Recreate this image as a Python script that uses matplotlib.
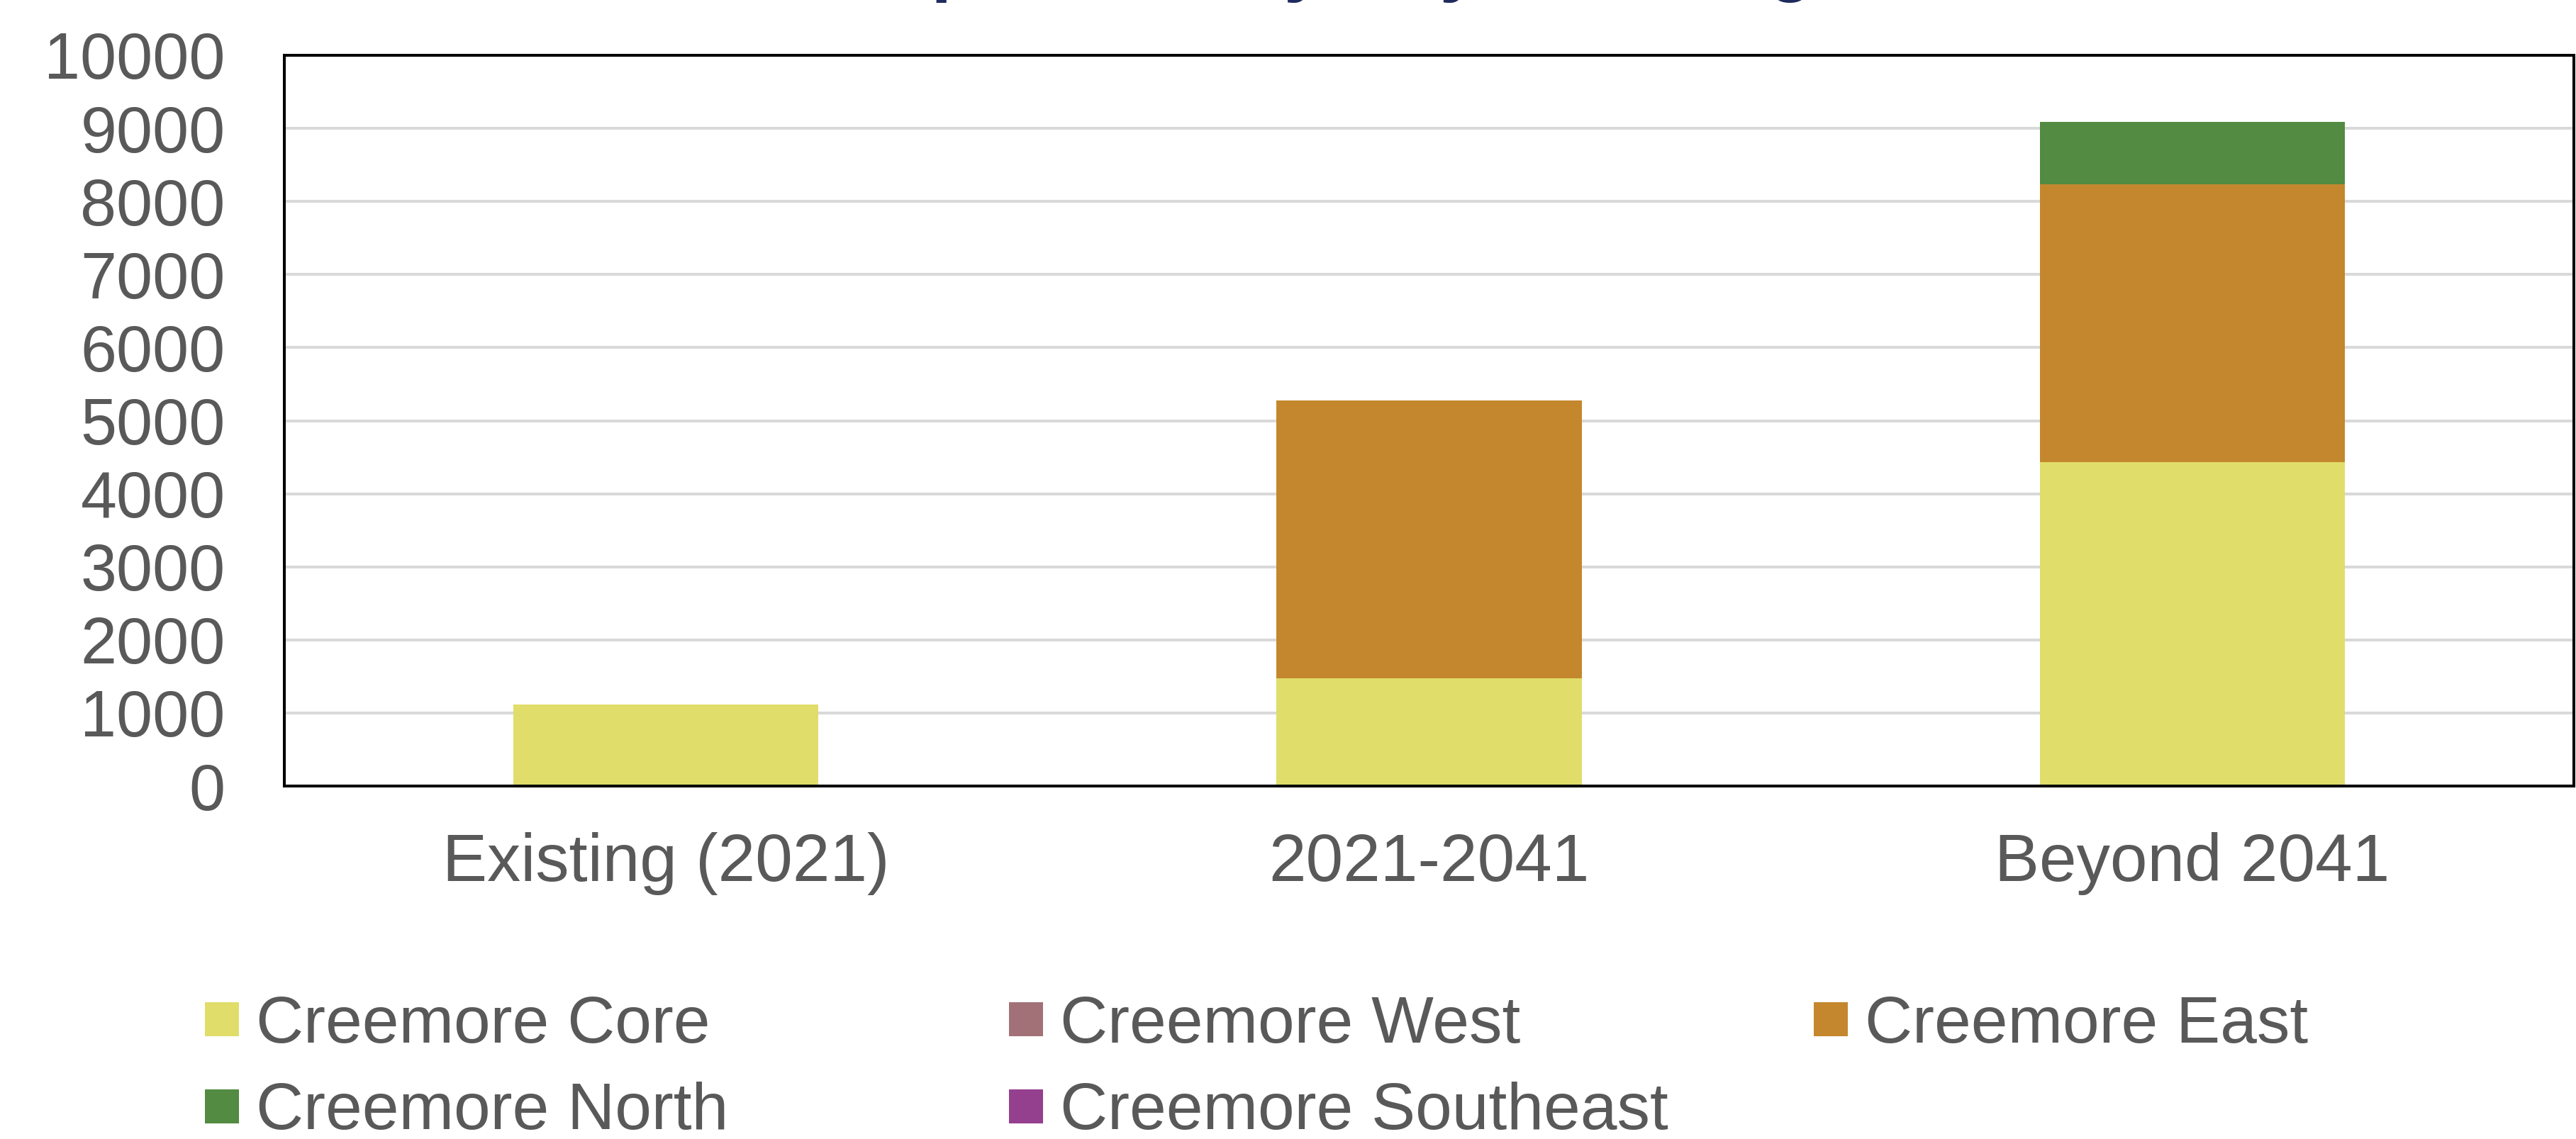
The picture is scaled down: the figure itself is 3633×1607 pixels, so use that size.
import matplotlib
matplotlib.use("Agg")
import matplotlib.pyplot as plt
from matplotlib.lines import Line2D
import numpy as np

plt.rcParams["font.family"] = ["Liberation Sans", "DejaVu Sans"]

# Data
periods = ["Existing (2021)", "2021-2041", "Beyond 2041"]
series_names = ["Creemore Core", "Creemore West", "Creemore East",
                "Creemore North", "Creemore Southeast"]
creemore_core = [1120, 1470, 4430]
creemore_west = [0, 0, 0]
creemore_east = [0, 3810, 3800]
creemore_north = [0, 0, 860]
creemore_southeast = [0, 0, 0]
y_ticks = [0, 1000, 2000, 3000, 4000, 5000, 6000, 7000, 8000, 9000, 10000]
title_text = "Creemore Population by Key Planning Area"

series_values = [creemore_core, creemore_west, creemore_east,
                 creemore_north, creemore_southeast]
colors = ["#E0DD6A", "#A27177", "#C4872D", "#528B41", "#953F8F"]

W, H = 3633, 1607
fig = plt.figure(figsize=(W / 100, H / 100), dpi=100)
ax = fig.add_axes([401 / W, 1 - 1109 / H, (3630 - 401) / W, (1109 - 78) / H])

x = np.arange(len(periods))
bottom = np.zeros(len(periods))
for name, vals, col in zip(series_names, series_values, colors):
    vals = np.array(vals, dtype=float)
    ax.bar(x, vals, width=0.4, bottom=bottom, color=col, label=name,
           zorder=3, linewidth=0)
    bottom += vals

ax.set_xlim(-0.5, 2.5)
ax.set_ylim(0, 10000)
ax.set_yticks(y_ticks)
ax.set_yticklabels([str(v) for v in y_ticks])
ax.set_xticks(x)
ax.set_xticklabels(periods)

ax.yaxis.grid(True, color="#D9D9D9", linewidth=2.9, zorder=0)
ax.set_axisbelow(True)
for sp in ax.spines.values():
    sp.set_color("black")
    sp.set_linewidth(2.9)
    sp.set_zorder(5)

ax.tick_params(axis="y", length=0, pad=60, labelsize=66, labelcolor="#595959")
ax.tick_params(axis="x", length=0, pad=47, labelsize=68, labelcolor="#595959")

# Legend laid out as a 3-column grid, one legend per column
handles = [Line2D([], [], marker="s", linestyle="", markersize=34.5,
                  markerfacecolor=c, markeredgewidth=0, label=n)
           for n, c in zip(series_names, colors)]
columns = [[0, 3], [1, 4], [2]]
col_x = [289, 1423, 2558]
for idxs, cx in zip(columns, col_x):
    leg = fig.legend(handles=[handles[i] for i in idxs],
                     loc="upper left",
                     bbox_to_anchor=(cx / W, 1 - 1404 / H),
                     frameon=False, fontsize=67, borderpad=0,
                     borderaxespad=0, handlelength=0.52,
                     handletextpad=0.25, labelspacing=0.39)
    for t in leg.get_texts():
        t.set_color("#595959")

# Chart title sits above the visible canvas
fig.text(665 / W, 1 + 18 / H, title_text, ha="left", va="baseline",
         fontsize=75, fontweight="bold", color="#1F2A5E")

fig.savefig("out.png", dpi=100, facecolor="white")
